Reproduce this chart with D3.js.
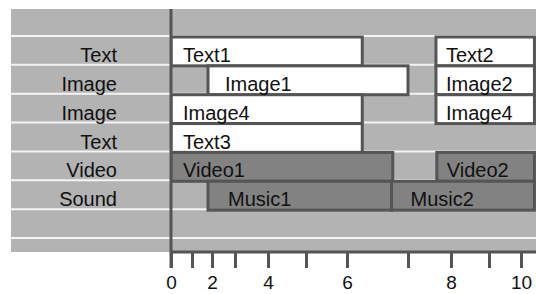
<!DOCTYPE html>
<html>
<head>
<meta charset="utf-8">
<script src="https://cdn.jsdelivr.net/npm/d3@7/dist/d3.min.js"></script>
<style>
  html, body { margin: 0; padding: 0; background: #ffffff; }
  svg { display: block; font-family: "Liberation Sans", Arial, Helvetica, sans-serif; }
</style>
</head>
<body>
<svg id="chart" width="536" height="294"></svg>
<script>
// ---- data ----
const rowLabels = ["Text", "Image", "Image", "Text", "Video", "Sound", ""];
const barNames  = ["Text1", "Image1", "Image4", "Text3", "Video1", "Music1", "Text2", "Image2", "Image4", "Video2", "Music2"];
const barRows   = [0, 1, 2, 3, 4, 5, 0, 1, 2, 4, 5];
const barStart  = [0, 1.8, 0, 0, 0, 1.8, 7.65, 7.65, 7.65, 7.67, 6.73];
const barEnd    = [6.25, 7.0, 6.25, 6.25, 6.75, 6.73, 10.42, 10.42, 10.42, 10.42, 10.42];
const tickValues = [0, 1, 2, 3, 4, 5, 6, 7, 8, 9, 10];
const tickLabels = ["0", "", "2", "", "4", "", "6", "", "8", "", "10"];

// ---- layout (not data) ----
const tickPixels = [171, 192, 212, 235, 268, 306, 347, 408, 451, 489, 521];
const labelPad   = [12, 17, 12, 12, 12, 20, 10, 10, 10, 10, 19];
const W = 536, H = 294;
const plotLeft = 11, plotTop = 9, plotBottom = 252, axisX = 171;
const colors = { bg: "#b3b3b3", grid: "#f4f4f4", stroke: "#555555", light: "#ffffff", dark: "#828282", text: "#111111" };

const svg = d3.select("#chart");

const x = d3.scaleLinear().domain(tickValues).range(tickPixels);
const y = d3.scaleBand().domain(d3.range(rowLabels.length)).range([36, 238]).padding(0);

// background
svg.append("rect").attr("x", plotLeft).attr("y", plotTop)
  .attr("width", W - plotLeft).attr("height", plotBottom - plotTop)
  .attr("fill", colors.bg);

// row separator lines
const boundaries = rowLabels.map((d, i) => y(i)).concat([y(rowLabels.length - 1) + y.bandwidth()]);
svg.append("g").selectAll("line").data(boundaries).join("line")
  .attr("x1", plotLeft).attr("x2", W)
  .attr("y1", d => d).attr("y2", d => d)
  .attr("stroke", colors.grid).attr("stroke-width", 2);

// row labels
svg.append("g").selectAll("text").data(rowLabels).join("text")
  .attr("x", 117).attr("y", (d, i) => y(i) + 26)
  .attr("text-anchor", "end")
  .attr("font-size", 20).attr("fill", colors.text)
  .text(d => d);

// bars
const bars = barNames.map((n, i) => ({ name: n, row: barRows[i], s: barStart[i], e: barEnd[i], pad: labelPad[i] }));
const clip = svg.append("defs").append("clipPath").attr("id", "plotclip");
clip.append("rect").attr("x", axisX).attr("y", 0).attr("width", W - axisX).attr("height", H);

const bg = svg.append("g").attr("clip-path", "url(#plotclip)");
bg.selectAll("rect").data(bars).join("rect")
  .attr("x", d => x(d.s)).attr("y", d => y(d.row) + 1)
  .attr("width", d => x(d.e) - x(d.s)).attr("height", y.bandwidth())
  .attr("fill", d => (rowLabels[d.row] === "Video" || rowLabels[d.row] === "Sound") ? colors.dark : colors.light)
  .attr("stroke", colors.stroke).attr("stroke-width", 3);

bg.selectAll("text").data(bars).join("text")
  .attr("x", d => x(d.s) + d.pad).attr("y", d => y(d.row) + 26)
  .attr("font-size", 20).attr("fill", colors.text)
  .text(d => d.name);

// vertical axis line
svg.append("line").attr("x1", axisX).attr("x2", axisX)
  .attr("y1", plotTop).attr("y2", plotBottom + 16)
  .attr("stroke", colors.stroke).attr("stroke-width", 3);

// horizontal axis line
svg.append("line").attr("x1", axisX).attr("x2", W)
  .attr("y1", plotBottom).attr("y2", plotBottom)
  .attr("stroke", colors.stroke).attr("stroke-width", 3);

// bottom axis
const axis = d3.axisBottom(x).tickValues(tickValues).tickSize(16)
  .tickFormat((d, i) => tickLabels[i]);
const ag = svg.append("g").attr("transform", `translate(0,${plotBottom})`).call(axis);
ag.select(".domain").remove();
ag.selectAll(".tick line").attr("stroke", colors.stroke).attr("stroke-width", 3);
ag.selectAll(".tick text").attr("y", 37).attr("dy", null)
  .attr("font-size", 19).attr("font-family", "Liberation Sans, Arial, sans-serif")
  .attr("fill", colors.text);
</script>
</body>
</html>
